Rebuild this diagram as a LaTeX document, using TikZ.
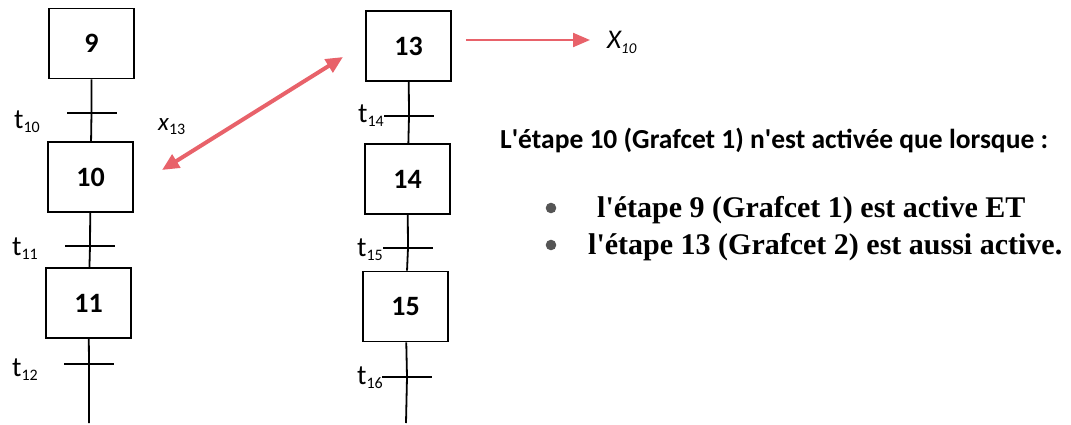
\documentclass[tikz,border=0pt]{standalone}
\usepackage{fontspec}
\setmainfont{Carlito}
\newfontfamily\serifbold{Liberation Serif}
\usepackage{tikz}
\usetikzlibrary{arrows.meta, positioning, calc}
\definecolor{arrow_red}{RGB}{232,98,106}
\definecolor{dot_grey}{RGB}{85,85,85}
\newcommand{\apos}{\textquotesingle}
% transition label: big t, small lowered index
\newcommand{\tlbl}[1]{{\fontsize{28}{30}\selectfont t}\raisebox{-4pt}{\fontsize{16}{18}\selectfont #1}}
\tikzset{
    step_box/.style={
        rectangle, draw=black, line width=1.8pt, fill=white,
        minimum width=85pt, minimum height=70pt, inner sep=0pt,
        font=\fontsize{28}{30}\selectfont\bfseries
    },
    trans_bar/.style={
        rectangle, fill=black, draw=none, inner sep=0pt,
        minimum width=50pt, minimum height=1.9pt
    },
    trans_lbl/.style={
        inner sep=0pt
    },
    flow_line/.style={
        draw=black, line width=1.8pt
    },
    link_double/.style={
        {Triangle[length=17pt, width=15pt]}-{Triangle[length=17pt, width=15pt]},
        draw=arrow_red, line width=4pt
    },
    link_single/.style={
        -{Triangle[length=17pt, width=14pt]}, draw=arrow_red, line width=2.2pt
    },
    note_head/.style={
        anchor=base west, inner sep=0pt, font=\fontsize{27.5}{30}\selectfont\bfseries
    },
    note_item/.style={
        anchor=base west, inner sep=0pt, font=\serifbold\fontsize{30}{33}\selectfont\bfseries
    }
}

\begin{document}
\begin{tikzpicture}[x=1pt, y=-1pt]

    \useasboundingbox (0,0) rectangle (1071,424);

    % --- Grafcet 1 (left) ---
    \node[step_box] (s9)  at (91.5, 43.5) {9};
    \node[trans_bar] (t10) at (91.5, 113) {};
    \node[step_box] (s10) at (90.5, 177) {10};
    \node[trans_bar] (t11) at (90, 246) {};
    \node[step_box] (s11) at (88.5, 303) {11};
    \node[trans_bar] (t12) at (89, 364) {};
    \coordinate (g1_end) at (89, 423);

    \node[trans_lbl, anchor=base west] (lbl_t10) at (14, 128) {\tlbl{10}};
    \node[trans_lbl, anchor=base west] (lbl_t11) at (12, 255) {\tlbl{11}};
    \node[trans_lbl, anchor=base west] (lbl_t12) at (12, 376) {\tlbl{12}};

    \draw[flow_line] (s9) -- (t10) -- (s10);
    \draw[flow_line] (s10) -- (t11) -- (s11);
    \draw[flow_line] (s11) -- (t12) -- (g1_end);

    % --- Grafcet 2 (right) ---
    \node[step_box] (s13) at (408.5, 46) {13};
    \node[trans_bar] (t14) at (409, 116) {};
    \node[step_box] (s14) at (407.5, 179) {14};
    \node[trans_bar] (t15) at (408, 248) {};
    \node[step_box] (s15) at (405.5, 306.5) {15};
    \node[trans_bar] (t16) at (407, 377) {};
    \coordinate (g2_end) at (406, 423);

    \node[trans_lbl, anchor=base east] (lbl_t14) at (384, 122) {\tlbl{14}};
    \node[trans_lbl, anchor=base east] (lbl_t15) at (383, 256) {\tlbl{15}};
    \node[trans_lbl, anchor=base east] (lbl_t16) at (383, 384) {\tlbl{16}};

    \draw[flow_line] (s13) -- (t14) -- (s14);
    \draw[flow_line] (s14) -- (t15) -- (s15);
    \draw[flow_line] (s15) -- (t16) -- (g2_end);

    % --- Synchronisation ---
    \node[trans_lbl, anchor=base west] (lbl_x13) at (158, 130)
        {{\fontsize{25}{27}\selectfont\itshape x}\raisebox{-4pt}{\fontsize{16}{18}\selectfont 13}};
    \coordinate (sync_a) at (162, 170);
    \coordinate (sync_b) at (343, 57);
    \draw[link_double] (sync_a) -- (sync_b);

    \node[trans_lbl, anchor=base west] (lbl_X10) at (607, 48)
        {\itshape{\fontsize{27}{29}\selectfont X}\raisebox{-5pt}{\fontsize{15}{17}\selectfont 10}};
    \draw[link_single] ([xshift=14pt, yshift=6pt]s13.east) -- ([xshift=-17pt]lbl_X10.west |- 0,40);

    % --- Explanation ---
    \node[note_head] (head) at (500, 148) {L\apos étape 10 (Grafcet 1) n\apos est activée que lorsque :};
    \node[note_item] (item1) at (597, 217) {l\apos étape 9 (Grafcet 1) est active ET};
    \node[note_item] (item2) at (588, 254) {l\apos étape 13 (Grafcet 2) est aussi active.};
    \fill[dot_grey] (551, 208) circle (5.3pt);
    \fill[dot_grey] (551, 245) circle (5.3pt);

\end{tikzpicture}
\end{document}
